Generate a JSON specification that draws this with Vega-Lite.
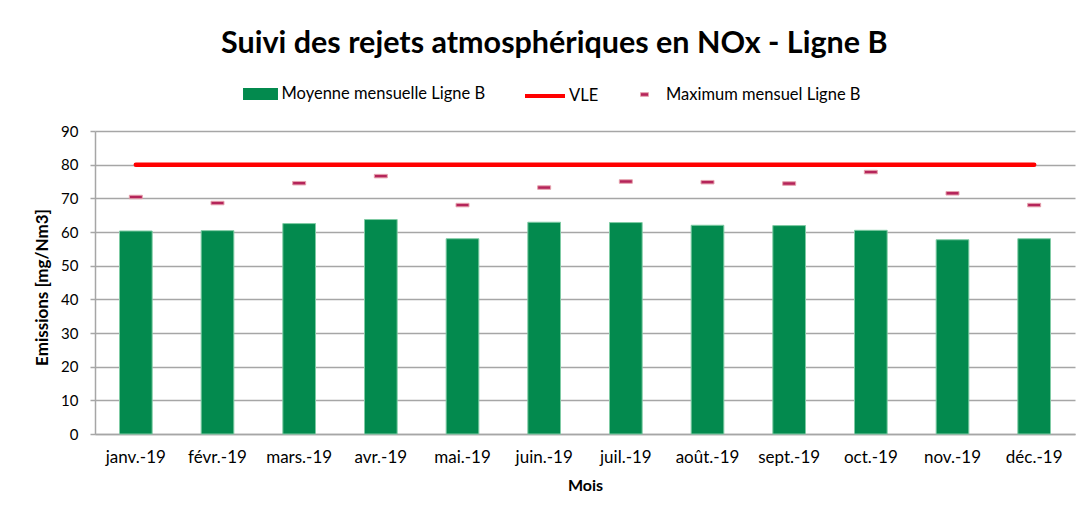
{
  "$schema": "https://vega.github.io/schema/vega-lite/v6.json",
  "width": 980,
  "height": 303,
  "autosize": {"type": "none"},
  "padding": {"left": 95, "top": 131, "right": 14, "bottom": 80},
  "background": "white",
  "title": {
    "text": "Suivi des rejets atmosphériques en NOx - Ligne B",
    "font": "Lato",
    "fontSize": 30.5,
    "fontWeight": "bold",
    "color": "#000000",
    "anchor": "middle",
    "frame": "bounds",
    "offset": 15
  },
  "data": {
    "values": [
      {"mois": "janv.-19", "moyenne": 60.3, "maximum": 70.4, "vle": 80},
      {"mois": "févr.-19", "moyenne": 60.4, "maximum": 68.6, "vle": 80},
      {"mois": "mars.-19", "moyenne": 62.5, "maximum": 74.5, "vle": 80},
      {"mois": "avr.-19", "moyenne": 63.7, "maximum": 76.6, "vle": 80},
      {"mois": "mai.-19", "moyenne": 58.0, "maximum": 68.0, "vle": 80},
      {"mois": "juin.-19", "moyenne": 62.9, "maximum": 73.2, "vle": 80},
      {"mois": "juil.-19", "moyenne": 62.8, "maximum": 75.0, "vle": 80},
      {"mois": "août.-19", "moyenne": 62.0, "maximum": 74.8, "vle": 80},
      {"mois": "sept.-19", "moyenne": 61.9, "maximum": 74.4, "vle": 80},
      {"mois": "oct.-19", "moyenne": 60.5, "maximum": 77.8, "vle": 80},
      {"mois": "nov.-19", "moyenne": 57.7, "maximum": 71.5, "vle": 80},
      {"mois": "déc.-19", "moyenne": 58.0, "maximum": 68.0, "vle": 80}
    ]
  },
  "encoding": {
    "x": {
      "field": "mois",
      "type": "nominal",
      "sort": null,
      "scale": {"paddingInner": 0.6, "paddingOuter": 0.3},
      "axis": {"title": "Mois", "labelAngle": 0}
    }
  },
  "layer": [
    {
      "mark": {"type": "bar", "stroke": "#7FCBA4", "strokeWidth": 1},
      "encoding": {
        "y": {
          "field": "moyenne",
          "type": "quantitative",
          "scale": {"domain": [0, 90]},
          "axis": {"title": "Emissions [mg/Nm3]", "values": [0, 10, 20, 30, 40, 50, 60, 70, 80, 90]}
        },
        "color": {
          "datum": "Moyenne mensuelle Ligne B",
          "type": "nominal",
          "scale": {"range": ["#038A4E"]},
          "legend": {
            "orient": "none",
            "legendX": 146.5,
            "legendY": -56,
            "title": null,
            "symbolType": "M-0.92,-0.32H0.92V0.32H-0.92Z",
            "symbolSize": 1444,
            "symbolStrokeWidth": 0,
            "symbolOpacity": 1,
            "labelOffset": 2
          }
        }
      }
    },
    {
      "mark": {"type": "line", "strokeWidth": 4.5, "strokeCap": "round"},
      "encoding": {
        "y": {
          "field": "vle",
          "type": "quantitative",
          "scale": {"domain": [0, 90]},
          "axis": {"title": "Emissions [mg/Nm3]", "values": [0, 10, 20, 30, 40, 50, 60, 70, 80, 90]}
        },
        "color": {
          "datum": "VLE",
          "type": "nominal",
          "scale": {"range": ["#FF0000"]},
          "legend": {
            "orient": "none",
            "legendX": 428,
            "legendY": -57,
            "title": null,
            "symbolType": "M-1,0H1",
            "symbolSize": 1600,
            "symbolStrokeWidth": 4,
            "symbolOpacity": 1,
            "labelOffset": 2
          }
        }
      }
    },
    {
      "mark": {"type": "tick", "size": 13, "thickness": 3.5, "stroke": "#E6A3AE", "strokeWidth": 1, "opacity": 1},
      "encoding": {
        "y": {
          "field": "maximum",
          "type": "quantitative",
          "scale": {"domain": [0, 90]},
          "axis": {"title": "Emissions [mg/Nm3]", "values": [0, 10, 20, 30, 40, 50, 60, 70, 80, 90]}
        },
        "color": {
          "datum": "Maximum mensuel Ligne B",
          "type": "nominal",
          "scale": {"range": ["#B5245A"]},
          "legend": {
            "orient": "none",
            "legendX": 539,
            "legendY": -47,
            "title": null,
            "symbolType": "M-0.4,-0.18H0.4V0.18H-0.4Z",
            "symbolSize": 400,
            "symbolStrokeColor": "#E6A3AE",
            "symbolStrokeWidth": 1,
            "symbolOpacity": 1,
            "labelOffset": 11
          }
        }
      }
    }
  ],
  "resolve": {"scale": {"color": "independent"}, "legend": {"color": "independent"}},
  "config": {
    "view": {"stroke": null},
    "axis": {
      "labelFont": "Lato",
      "labelColor": "#000000",
      "titleFont": "Lato",
      "titleFontWeight": "bold",
      "titleColor": "#000000",
      "titleFontSize": 16,
      "domainColor": "#A6A6A6",
      "domainWidth": 1.5,
      "gridColor": "#A6A6A6",
      "gridWidth": 1.5,
      "tickColor": "#A6A6A6",
      "tickWidth": 1.5
    },
    "axisX": {
      "labelFontSize": 17,
      "labelPadding": 15,
      "tickSize": 0,
      "grid": false,
      "titlePadding": 12
    },
    "axisY": {
      "labelFontSize": 15,
      "labelPadding": 12,
      "tickSize": 5,
      "titlePadding": 9,
      "titleFontSize": 17,
      "titleY": 156,
      "labelOverlap": false
    },
    "legend": {
      "labelFont": "Lato",
      "labelFontSize": 16.5,
      "labelColor": "#000000",
      "labelLimit": 400
    }
  }
}
